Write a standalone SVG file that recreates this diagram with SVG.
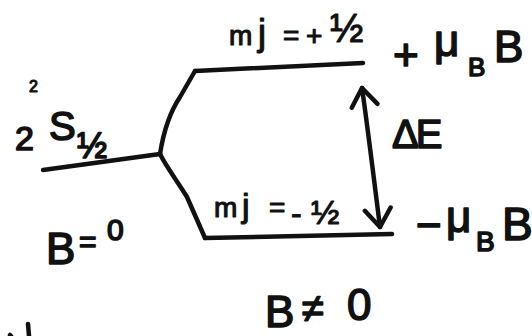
<svg xmlns="http://www.w3.org/2000/svg" width="532" height="336" viewBox="0 0 532 336">
<style>
.t{font-family:"Liberation Sans",Arial,sans-serif;fill:#111;stroke:#111;stroke-width:1.6;stroke-linejoin:round}
.s{stroke-width:1.1}
.ln{fill:none;stroke:#111;stroke-width:4.5;stroke-linecap:round;stroke-linejoin:round}
</style>
<defs>
<marker id="head" viewBox="-3 -16 24 32" markerUnits="userSpaceOnUse" markerWidth="24" markerHeight="32" refX="18" refY="0" orient="auto-start-reverse">
<path d="M0,-13 L18,0 L0,13" fill="none" stroke="#111" stroke-width="4.5" stroke-linecap="round" stroke-linejoin="round"/>
</marker>
</defs>
<rect width="532" height="336" fill="#fff"/>
<g id="level-unsplit">
<path class="ln" d="M43,170 L160,154"/>
<text class="t" x="15" y="150" font-size="34">2</text>
<text class="t s" x="29" y="92" font-size="16">2</text>
<text class="t" x="49" y="140" font-size="40">S</text>
<text class="t" x="77" y="158" font-size="36">½</text>
</g>
<g id="level-upper">
<path class="ln" d="M195,71 L363,63"/>
<text class="t s" y="45" font-size="28"><tspan x="229">m</tspan><tspan x="258" font-size="36">j</tspan><tspan x="283">=</tspan><tspan x="306">+</tspan><tspan x="330" y="42" font-size="40">½</tspan></text>
<text class="t" font-size="44"><tspan x="393" y="70">+</tspan><tspan x="434" y="56">μ</tspan><tspan x="468" y="76" font-size="26">B</tspan><tspan x="494" y="62">B</tspan></text>
</g>
<g id="level-lower">
<path class="ln" d="M205,238 L392,234"/>
<text class="t s" y="217" font-size="28"><tspan x="214">m</tspan><tspan x="242" font-size="34">j</tspan><tspan x="269">=</tspan><tspan x="291" y="224" font-size="32">-</tspan><tspan x="311" y="224" font-size="34">½</tspan></text>
<text class="t" font-size="44"><tspan x="416" y="240">−</tspan><tspan x="446" y="232">μ</tspan><tspan x="476" y="251" font-size="28">B</tspan><tspan x="502" y="240" font-size="46">B</tspan></text>
</g>
<g id="label-deltaE">
<text class="t" x="392" y="148" font-size="40" letter-spacing="-3">ΔE</text>
</g>
<g id="label-B0">
<text class="t" font-size="44"><tspan x="46" y="264">B</tspan><tspan x="79" y="252" font-size="30">=</tspan><tspan x="107" y="240" font-size="30">0</tspan></text>
</g>
<g id="label-Bnot0">
<text class="t" font-size="44"><tspan x="265" y="327">B</tspan><tspan x="302" y="322" font-size="40">≠</tspan><tspan x="347" y="320">0</tspan></text>
</g>
<g id="connectors">
<path class="ln" d="M160,154 C163,135 168,115 180,97 L195,71"/>
<path class="ln" d="M160,154 C167,168 178,182 187,197 L205,238"/>
<path class="ln" d="M362,88 C367,122 373,172 380,227" marker-start="url(#head)" marker-end="url(#head)"/>
</g>
<path class="ln" d="M28,324 L29,336 M10,335 L11,336" stroke-width="3.5"/>
</svg>
